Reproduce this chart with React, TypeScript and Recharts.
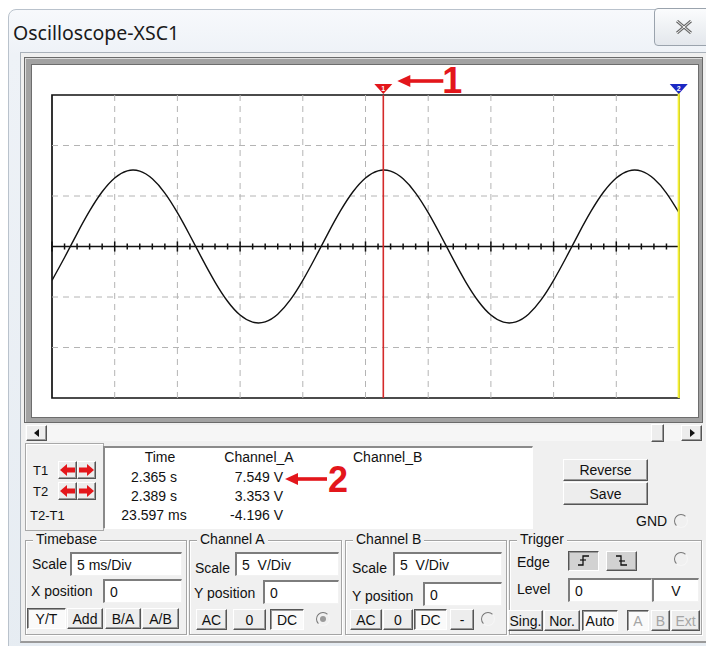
import React from 'react';
import { LineChart, Line, XAxis, YAxis, ReferenceLine, ReferenceArea } from 'recharts';

// ---- data (time in ms from left edge of screen, volts) ----
const timeMs = [0, 1, 2, 3, 4, 5, 6, 7, 8, 9, 10, 11, 12, 13, 14, 15, 16, 17, 18, 19, 20, 21, 22, 23, 24, 25, 26, 27, 28, 29, 30, 31, 32, 33, 34, 35, 36, 37, 38, 39, 40, 41, 42, 43, 44, 45, 46, 47, 48, 49, 50];
const channelA = [-3.35, -1.09, 1.28, 3.52, 5.42, 6.79, 7.49, 7.46, 6.7, 5.29, 3.35, 1.09, -1.28, -3.52, -5.42, -6.79, -7.49, -7.46, -6.7, -5.29, -3.35, -1.09, 1.28, 3.52, 5.42, 6.79, 7.49, 7.46, 6.7, 5.29, 3.35, 1.09, -1.28, -3.52, -5.42, -6.79, -7.49, -7.46, -6.7, -5.29, -3.35, -1.09, 1.28, 3.52, 5.42, 6.79, 7.49, 7.46, 6.7, 5.29, 3.35];
const gridTimeMs = [5, 10, 15, 20, 25, 30, 35, 40, 45];
const gridVolt = [-10, -5, 5, 10];
const majorTickMs = [0, 5, 10, 15, 20, 25, 30, 35, 40, 45, 50];
const timeDomain = [0, 50];
const voltDomain = [-15, 15];
const cursorT1Ms = 26.42;
const cursorT2Ms = 49.98;

const readHeaders = ['Time', 'Channel_A', 'Channel_B'];
const rowLabels = ['T1', 'T2', 'T2-T1'];
const readTime = ['2.365 s', '2.389 s', '23.597 ms'];
const readChA = ['7.549 V', '3.353 V', '-4.196 V'];

const data = timeMs.map((t, i) => ({ t, a: channelA[i] }));

const F = '"Liberation Sans", Arial, sans-serif';
const RED = '#e3161b';

const Txt = ({ x, y, s = 14, c = '#111', a = 'left', bold = false, ff = F, children }: any) => (
  <div
    style={{
      position: 'absolute', left: x, top: y - s * 0.62, fontSize: s, lineHeight: `${Math.round(s * 1.2)}px`,
      color: c, fontWeight: bold ? 700 : 400, fontFamily: ff, whiteSpace: 'nowrap',
      transform: a === 'center' ? 'translateX(-50%)' : a === 'right' ? 'translateX(-100%)' : undefined,
    }}
  >
    {children}
  </div>
);

const Btn = ({ x, y, w, h, label, pressed = false, disabled = false, bg, s = 14, children }: any) => (
  <div
    style={{
      position: 'absolute', left: x, top: y, width: w, height: h, boxSizing: 'border-box',
      background: bg ?? (pressed ? '#fafafa' : '#ededed'),
      borderStyle: 'solid', borderWidth: 1,
      borderColor: pressed ? '#555 #fff #fff #555' : '#fff #555 #555 #fff',
      boxShadow: pressed ? 'inset 1px 1px 0 #9a9a9a' : 'inset -1px -1px 0 #9a9a9a',
      display: 'flex', alignItems: 'center', justifyContent: 'center',
      fontSize: s, fontFamily: F, color: disabled ? '#a5a5a5' : '#111', whiteSpace: 'nowrap',
    }}
  >
    {label}
    {children}
  </div>
);

const Field = ({ x, y, w, h, value, center = false }: any) => (
  <div
    style={{
      position: 'absolute', left: x, top: y, width: w, height: h, boxSizing: 'border-box', background: '#fff',
      borderStyle: 'solid', borderWidth: '2px 1px 1px 2px', borderColor: '#7d7d7d #f2f2f2 #f2f2f2 #7d7d7d',
      fontSize: 14, fontFamily: F, paddingLeft: center ? 0 : 5, display: 'flex', alignItems: 'center',
      justifyContent: center ? 'center' : 'flex-start', whiteSpace: 'pre', color: '#111',
    }}
  >
    {value}
  </div>
);

const Group = ({ x, y, w, h, title }: any) => (
  <>
    <div
      style={{
        position: 'absolute', left: x, top: y, width: w, height: h, boxSizing: 'border-box',
        border: '1px solid #a4a4a4', boxShadow: 'inset 1px 1px 0 #fff, 1px 1px 0 #fff',
      }}
    />
    <div
      style={{
        position: 'absolute', left: x + 8, top: y - 9, background: '#f0f0f0', padding: '0 3px',
        fontSize: 14, lineHeight: '17px', fontFamily: F, color: '#111',
      }}
    >
      {title}
    </div>
  </>
);

const Radio = ({ cx, cy, r = 7, dot = false }: any) => (
  <div
    style={{
      position: 'absolute', left: cx - r, top: cy - r, width: 2 * r, height: 2 * r, boxSizing: 'border-box',
      borderRadius: '50%', borderStyle: 'solid', borderWidth: 1.5, borderColor: '#777 #f6f6f6 #f6f6f6 #777',
    }}
  >
    {dot && (
      <div style={{ position: 'absolute', left: r - 4.5, top: r - 4.5, width: 6, height: 6, borderRadius: '50%', background: '#9a9a9a' }} />
    )}
  </div>
);

const ArrowIcon = ({ dir }: any) => (
  <svg width={17} height={16} viewBox="0 0 17 16">
    {dir === 'left' ? (
      <>
        <polygon points="1,8 8,2 8,14" fill={RED} />
        <rect x={7} y={5.5} width={9} height={5} fill={RED} />
      </>
    ) : (
      <>
        <polygon points="16,8 9,2 9,14" fill={RED} />
        <rect x={1} y={5.5} width={9} height={5} fill={RED} />
      </>
    )}
  </svg>
);

const EdgeIcon = ({ rising }: any) => (
  <svg width={16} height={16} viewBox="0 0 16 16">
    {rising ? (
      <polyline points="2,12 7,12 7,3 13,3" fill="none" stroke="#111" strokeWidth={1.3} />
    ) : (
      <polyline points="2,3 7,3 7,12 13,12" fill="none" stroke="#111" strokeWidth={1.3} />
    )}
    {rising ? (
      <line x1={4} y1={7} x2={10} y2={7} stroke="#111" strokeWidth={1.2} />
    ) : (
      <line x1={5} y1={8} x2={11} y2={8} stroke="#111" strokeWidth={1.2} />
    )}
  </svg>
);

const CursorMarker = (props: any) => {
  const { viewBox, color, num, annotate, lineColor } = props;
  if (!viewBox) return null;
  const x = viewBox.x;
  const top = viewBox.y;
  return (
    <g>
      {lineColor && <line x1={x} x2={x} y1={top - 10} y2={top} stroke={lineColor} strokeWidth={2.2} />}
      <polygon points={`${x - 9},${top - 11} ${x + 9},${top - 11} ${x},${top - 1}`} fill={color} />
      <text x={x} y={top - 4.5} fontSize={7} fill="#fff" textAnchor="middle" fontFamily={F} fontWeight={700}>
        {num}
      </text>
      {annotate && (
        <g>
          <polygon points={`${x + 14},${top - 14} ${x + 27},${top - 20} ${x + 27},${top - 8}`} fill={RED} />
          <rect x={x + 26} y={top - 15.8} width={34} height={3.6} fill={RED} />
          <text x={x + 59} y={top - 2} fontSize={36} fontWeight={700} fill={RED} fontFamily={F}>
            1
          </text>
        </g>
      )}
    </g>
  );
};

// chart surface extends above the white screen so the big annotation has room
const CH_TOP = 46;
const Scope = () => (
  <LineChart width={664} height={370} data={data} margin={{ top: 95 - CH_TOP, right: 18, bottom: 18, left: 19 }}>
    <XAxis dataKey="t" type="number" domain={timeDomain} hide allowDataOverflow />
    <YAxis type="number" domain={voltDomain} hide allowDataOverflow />
    {gridTimeMs.map((t) => (
      <ReferenceLine key={'gx' + t} x={t} stroke="#b4b4b4" strokeDasharray="6 5" />
    ))}
    {gridVolt.map((v) => (
      <ReferenceLine key={'gy' + v} y={v} stroke="#b4b4b4" strokeDasharray="6 5" />
    ))}
    <ReferenceArea x1={0} x2={50} y1={-15} y2={15} fill="none" fillOpacity={0} stroke="#111" strokeWidth={1.7} />
    <ReferenceLine y={0} stroke="#111" strokeWidth={1.7} />
    {timeMs.map((t) => {
      const h = majorTickMs.includes(t) ? 0.5 : 0.3;
      return (
        <ReferenceLine
          key={'tk' + t}
          segment={[{ x: t, y: -h }, { x: t, y: h }]}
          stroke="#111"
          strokeWidth={1.5}
        />
      );
    })}
    <Line dataKey="a" type="natural" stroke="#111" strokeWidth={1.4} dot={false} isAnimationActive={false} />
    <ReferenceLine
      x={cursorT1Ms}
      stroke="#d42a2a"
      strokeWidth={1.6}
      label={<CursorMarker color={RED} num="1" annotate />}
    />
    <ReferenceLine
      x={cursorT2Ms}
      stroke="#f4f032"
      strokeWidth={2.2}
      label={<CursorMarker color="#1b28c4" num="2" lineColor="#f4f032" />}
    />
  </LineChart>
);

export default function App() {
  const rowsY = [478, 497, 516];
  return (
    <div style={{ position: 'absolute', left: 0, top: 0, width: 706, height: 646, background: '#ffffff', overflow: 'hidden', fontFamily: F }}>
      {/* window frame */}
      <div
        style={{
          position: 'absolute', left: 8, top: 9, width: 720, height: 660, borderRadius: 8,
          background: 'linear-gradient(#f7f9fc, #eef2f7 45px, #e6ecf2)', border: '1px solid #b9c2cc',
        }}
      />
      {/* title */}
      <div style={{ position: 'absolute', left: 13, top: 20, fontSize: 19.5, lineHeight: '26px', fontFamily: '"Noto Sans", "Open Sans", sans-serif', color: '#1a1a1a' }}>
        Oscilloscope-XSC1
      </div>
      {/* close button */}
      <div
        style={{
          position: 'absolute', left: 654, top: 8, width: 60, height: 38, boxSizing: 'border-box', borderRadius: 4,
          border: '1px solid #9aa3ad', background: 'linear-gradient(#fbfcfd, #e3e7ec)',
        }}
      >
        <svg width={16} height={14} style={{ position: 'absolute', left: 21, top: 11 }} viewBox="0 0 16 14">
          <path d="M1,1 L15,13 M15,1 L1,13" stroke="#6a6a6a" strokeWidth={3} fill="none" />
          <path d="M1,1 L15,13 M15,1 L1,13" stroke="#f4f4f4" strokeWidth={1} fill="none" />
        </svg>
      </div>
      {/* client area */}
      <div style={{ position: 'absolute', left: 20, top: 52, width: 700, height: 588, background: '#f0f0f0', borderTop: '1px solid #a9b1ba', borderLeft: '1px solid #a9b1ba', borderBottom: '2px solid #9a9a9a' }} />

      {/* scope screen frame */}
      <div style={{ position: 'absolute', left: 24, top: 57, width: 679, height: 366, boxSizing: 'border-box', background: '#a2a2a2', border: '1px solid #6a6a6a', boxShadow: 'inset 1px 1px 0 #dcdcdc' }} />
      <div style={{ position: 'absolute', left: 31, top: 64, width: 668, height: 354, background: '#fff', border: '1px solid #6d6d6d', boxSizing: 'border-box' }} />
      <div style={{ position: 'absolute', left: 33, top: 66, width: 664, height: 350, background: '#fff' }} />
      <div style={{ position: 'absolute', left: 33, top: CH_TOP, width: 664, height: 370 }}>
        <Scope />
      </div>

      {/* scrollbar */}
      <div style={{ position: 'absolute', left: 25, top: 425, width: 678, height: 16, background: '#f6f6f6' }} />
      <Btn x={26} y={425} w={21} h={16}>
        <svg width={6} height={8} viewBox="0 0 6 8"><polygon points="0,4 5,0 5,8" fill="#111" /></svg>
      </Btn>
      <Btn x={651} y={424} w={13} h={18} />
      <Btn x={681} y={425} w={21} h={16}>
        <svg width={6} height={8} viewBox="0 0 6 8"><polygon points="6,4 1,0 1,8" fill="#111" /></svg>
      </Btn>

      {/* cursor panel */}
      <div style={{ position: 'absolute', left: 25, top: 443, width: 79, height: 88, boxSizing: 'border-box', border: '1px solid #a8a8a8', boxShadow: 'inset 1px 1px 0 #fff' }} />
      <Txt x={33} y={471} s={13}>{rowLabels[0]}</Txt>
      <Txt x={33} y={492} s={13}>{rowLabels[1]}</Txt>
      <Txt x={30} y={516} s={13}>{rowLabels[2]}</Txt>
      <Btn x={58} y={461} w={19} h={18}><ArrowIcon dir="left" /></Btn>
      <Btn x={77} y={461} w={19} h={18}><ArrowIcon dir="right" /></Btn>
      <Btn x={58} y={482} w={19} h={18}><ArrowIcon dir="left" /></Btn>
      <Btn x={77} y={482} w={19} h={18}><ArrowIcon dir="right" /></Btn>

      <div style={{ position: 'absolute', left: 103, top: 446, width: 430, height: 83, boxSizing: 'border-box', background: '#fff', borderStyle: 'solid', borderWidth: '2px 1px 1px 2px', borderColor: '#8a8a8a #fff #fff #8a8a8a' }} />
      <Txt x={160} y={458} a="center">{readHeaders[0]}</Txt>
      <Txt x={259} y={458} a="center">{readHeaders[1]}</Txt>
      <Txt x={353} y={458}>{readHeaders[2]}</Txt>
      {readTime.map((v, i) => (
        <Txt key={'rt' + i} x={154} y={rowsY[i]} a="center">{v}</Txt>
      ))}
      {readChA.map((v, i) => (
        <Txt key={'ra' + i} x={283} y={rowsY[i]} a="right">{v}</Txt>
      ))}
      {/* annotation 2 */}
      <svg width={72} height={48} style={{ position: 'absolute', left: 283, top: 452, overflow: 'visible' }} viewBox="0 0 72 48">
        <polygon points="2,27 15,21 15,33" fill={RED} />
        <rect x={14} y={25.2} width={30} height={3.6} fill={RED} />
        <text x={45} y={40} fontSize={36} fontWeight={700} fill={RED} fontFamily={F}>2</text>
      </svg>

      <Btn x={563} y={459} w={85} h={22} label="Reverse" />
      <Btn x={563} y={482} w={85} h={23} label="Save" />
      <Txt x={636} y={522}>GND</Txt>
      <Radio cx={681} cy={521} />

      {/* Timebase */}
      <Group x={25} y={540} w={162} h={95} title="Timebase" />
      <Txt x={32} y={565}>Scale</Txt>
      <Field x={70} y={552} w={112} h={24} value="5 ms/Div" />
      <Txt x={31} y={592}>X position</Txt>
      <Field x={103} y={579} w={79} h={24} value="0" />
      <Btn x={27} y={608} w={39} h={21} label="Y/T" pressed />
      <Btn x={67} y={608} w={36} h={21} label="Add" />
      <Btn x={105} y={608} w={36} h={21} label="B/A" />
      <Btn x={142} y={608} w={37} h={21} label="A/B" />

      {/* Channel A */}
      <Group x={189} y={540} w={153} h={95} title="Channel A" />
      <Txt x={195} y={569}>Scale</Txt>
      <Field x={235} y={552} w={104} h={24} value="5  V/Div" />
      <Txt x={194} y={594}>Y position</Txt>
      <Field x={263} y={580} w={76} h={24} value="0" />
      <Btn x={196} y={609} w={31} h={21} label="AC" />
      <Btn x={233} y={609} w={33} h={21} label="0" />
      <Btn x={270} y={609} w={34} h={21} label="DC" pressed />
      <Radio cx={323} cy={619} dot />

      {/* Channel B */}
      <Group x={345} y={540} w={162} h={95} title="Channel B" />
      <Txt x={352} y={569}>Scale</Txt>
      <Field x={393} y={552} w={109} h={24} value="5  V/Div" />
      <Txt x={352} y={597}>Y position</Txt>
      <Field x={423} y={582} w={79} h={24} value="0" />
      <Btn x={350} y={609} w={32} h={21} label="AC" />
      <Btn x={383} y={609} w={30} h={21} label="0" />
      <Btn x={414} y={609} w={33} h={21} label="DC" pressed />
      <Btn x={450} y={609} w={24} h={21} label="-" />
      <Radio cx={488} cy={619} />

      {/* Trigger */}
      <Group x={509} y={540} w={193} h={95} title="Trigger" />
      <Txt x={517} y={563}>Edge</Txt>
      <Btn x={568} y={551} w={31} h={20} bg="#d2d2d2" pressed><EdgeIcon rising /></Btn>
      <Btn x={606} y={551} w={31} h={20} bg="#d2d2d2"><EdgeIcon /></Btn>
      <Radio cx={681} cy={559} />
      <Txt x={517} y={590}>Level</Txt>
      <Field x={568} y={578} w={84} h={24} value="0" />
      <Field x={652} y={578} w={47} h={24} value="V" center />
      <Btn x={508} y={610} w={35} h={21} label="Sing." />
      <Btn x={544} y={610} w={36} h={21} label="Nor." />
      <Btn x={582} y={610} w={36} h={21} label="Auto" pressed />
      <Btn x={627} y={610} w={22} h={21} label="A" pressed disabled />
      <Btn x={651} y={610} w={19} h={21} label="B" disabled />
      <Btn x={671} y={610} w={29} h={21} label="Ext" disabled />
    </div>
  );
}
